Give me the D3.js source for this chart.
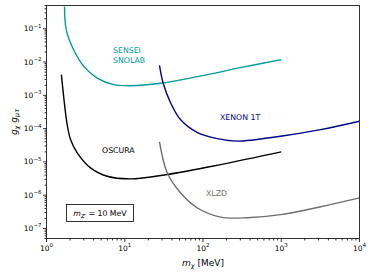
<!doctype html>
<html>
<head>
<meta charset="UTF-8">
<title>mZ' = 10 MeV limits</title>
<script src="https://d3js.org/d3.v7.min.js"></script>
<style>
  body { margin:0; background:#fff; }
  text { font-family:"DejaVu Sans", sans-serif; }
</style>
</head>
<body>
<script>
// curve data: mass in MeV, coupling g_chi * g_mutau
var senseiM = [1.70, 1.79, 2.23, 3.0, 4.45, 7.2, 11.8, 28.6, 114, 300, 1000];
var senseiG = [0.47, 0.093, 0.023, 0.0074, 0.0033, 0.0021, 0.00195, 0.0023, 0.0042, 0.0068, 0.0118];

var xenonM = [27.8, 31, 38.5, 51.5, 85, 153, 276, 980, 3180, 10000];
var xenonG = [0.0079, 0.0023, 6.0e-4, 1.87e-4, 7.6e-5, 5.0e-5, 4.2e-5, 5.9e-5, 9.3e-5, 1.66e-4];

var oscuraM = [1.55, 1.84, 2.03, 2.47, 3.65, 5.97, 11.8, 34.9, 167, 1000];
var oscuraG = [4.2e-3, 1.3e-4, 4.7e-5, 1.86e-5, 6.6e-6, 3.7e-6, 3.1e-6, 4.2e-6, 8.3e-6, 2.0e-5];

var xlzdM = [27.8, 34.9, 51.5, 84, 167, 367, 980, 3180, 10000];
var xlzdG = [4.0e-5, 4.7e-6, 1.18e-6, 4.2e-7, 2.2e-7, 2.1e-7, 2.6e-7, 4.5e-7, 8.3e-7];

var xTicks = [0, 1, 2, 3, 4];
var yTicks = [-7, -6, -5, -4, -3, -2, -1];

var W = 374, H = 277;
var L = 46.5, R = 359.5, T = 5.5, B = 238.5;

var svg = d3.select("body").append("svg").attr("width", W).attr("height", H);

var x = d3.scaleLog().domain([1, 1e4]).range([L, R]);
var y = d3.scaleLog().domain([5e-8, 0.5]).range([B, T]);

// minor ticks
function minors(lo, hi) {
    var out = [];
    for (var e = lo; e <= hi; e++) {
        for (var k = 2; k <= 9; k++) out.push(k * Math.pow(10, e));
    }
    return out;
}
var xMin = minors(0, 3);
var yMin = minors(-8, -1).filter(function(v){ return v >= 5e-8 && v <= 0.5; });

var ax = svg.append("g").attr("stroke", "#000").attr("stroke-width", 0.8);
ax.selectAll(".xm").data(xMin).enter().append("line")
    .attr("x1", function(d){ return x(d); }).attr("x2", function(d){ return x(d); })
    .attr("y1", B).attr("y2", B + 2);
ax.selectAll(".xM").data(xTicks).enter().append("line")
    .attr("x1", function(d){ return x(Math.pow(10, d)); }).attr("x2", function(d){ return x(Math.pow(10, d)); })
    .attr("y1", B).attr("y2", B + 3.5);
ax.selectAll(".ym").data(yMin).enter().append("line")
    .attr("y1", function(d){ return y(d); }).attr("y2", function(d){ return y(d); })
    .attr("x1", L).attr("x2", L - 2);
ax.selectAll(".yM").data(yTicks).enter().append("line")
    .attr("y1", function(d){ return y(Math.pow(10, d)); }).attr("y2", function(d){ return y(Math.pow(10, d)); })
    .attr("x1", L).attr("x2", L - 3.5);

// tick labels
var xl = svg.selectAll(".xl").data(xTicks).enter().append("text")
    .attr("x", function(d){ return x(Math.pow(10, d)); })
    .attr("y", B + 12)
    .attr("text-anchor", "middle")
    .attr("font-size", 7.5);
xl.append("tspan").text("10");
xl.append("tspan").attr("dy", -3.5).attr("font-size", 5.5).text(function(d){ return d; });

var yl = svg.selectAll(".yl").data(yTicks).enter().append("text")
    .attr("x", L - 5)
    .attr("y", function(d){ return y(Math.pow(10, d)) + 2.5; })
    .attr("text-anchor", "end")
    .attr("font-size", 7.5);
yl.append("tspan").text("10");
yl.append("tspan").attr("dy", -3.5).attr("font-size", 5.5).text(function(d){ return "\u2212" + (-d); });

// curves
var line = d3.line()
    .x(function(d){ return x(d[0]); })
    .y(function(d){ return y(d[1]); })
    .curve(d3.curveCatmullRom.alpha(0.5));

function pairs(a, b) { return a.map(function(v, i){ return [v, b[i]]; }); }

var series = [
    {m: senseiM, g: senseiG, c: "#009b9b"},
    {m: xenonM, g: xenonG, c: "#00008b"},
    {m: oscuraM, g: oscuraG, c: "#000000"},
    {m: xlzdM, g: xlzdG, c: "#6e6e6e"}
];

var clip = svg.append("clipPath").attr("id", "pc").append("rect")
    .attr("x", L).attr("y", T).attr("width", R - L).attr("height", B - T);

svg.append("g").attr("clip-path", "url(#pc)")
    .selectAll("path").data(series).enter().append("path")
    .attr("d", function(s){ return line(pairs(s.m, s.g)); })
    .attr("fill", "none")
    .attr("stroke", function(s){ return s.c; })
    .attr("stroke-width", 1.4);

// frame
svg.append("rect").attr("x", L).attr("y", T).attr("width", R - L).attr("height", B - T)
    .attr("fill", "none").attr("stroke", "#000").attr("stroke-width", 0.8);

// curve labels
function label(tx, ty, lines, col) {
    var t = svg.append("text").attr("x", tx).attr("y", ty).attr("font-size", 7.8).attr("fill", col);
    lines.forEach(function(s, i){
        t.append("tspan").attr("x", tx).attr("dy", i ? 9.5 : 0).text(s);
    });
}
label(113, 53, ["SENSEI", "SNOLAB"], "#009b9b");
label(220, 119.5, ["XENON 1T"], "#00008b");
label(102, 152.5, ["OSCURA"], "#000");
label(206, 195.5, ["XLZD"], "#6e6e6e");

// mass box
svg.append("rect").attr("x", 66.5).attr("y", 204.5).attr("width", 67).attr("height", 17)
    .attr("fill", "#fff").attr("stroke", "#000").attr("stroke-width", 0.8);
var bt = svg.append("text").attr("x", 100).attr("y", 216).attr("text-anchor", "middle").attr("font-size", 7.8);
bt.append("tspan").attr("font-style", "italic").text("m");
bt.append("tspan").attr("font-style", "italic").attr("font-size", 5.5).attr("dy", 1.8).text("Z\u2032");
bt.append("tspan").attr("dy", -1.8).text(" = 10 MeV");

// axis titles
var xt = svg.append("text").attr("x", 203).attr("y", 266).attr("text-anchor", "middle").attr("font-size", 9);
xt.append("tspan").attr("font-style", "italic").text("m");
xt.append("tspan").attr("font-style", "italic").attr("font-size", 6.5).attr("dy", 2).text("\u03c7");
xt.append("tspan").attr("dy", -2).text(" [MeV]");

var yt = svg.append("text").attr("transform", "translate(17," + (T + B) / 2 + ") rotate(-90)")
    .attr("text-anchor", "middle").attr("font-size", 9).attr("font-style", "italic");
yt.append("tspan").text("g");
yt.append("tspan").attr("font-size", 6.5).attr("dy", 2).text("\u03c7");
yt.append("tspan").attr("dy", -2).text(" g");
yt.append("tspan").attr("font-size", 6.5).attr("dy", 2).text("\u03bc\u03c4");
</script>
</body>
</html>
